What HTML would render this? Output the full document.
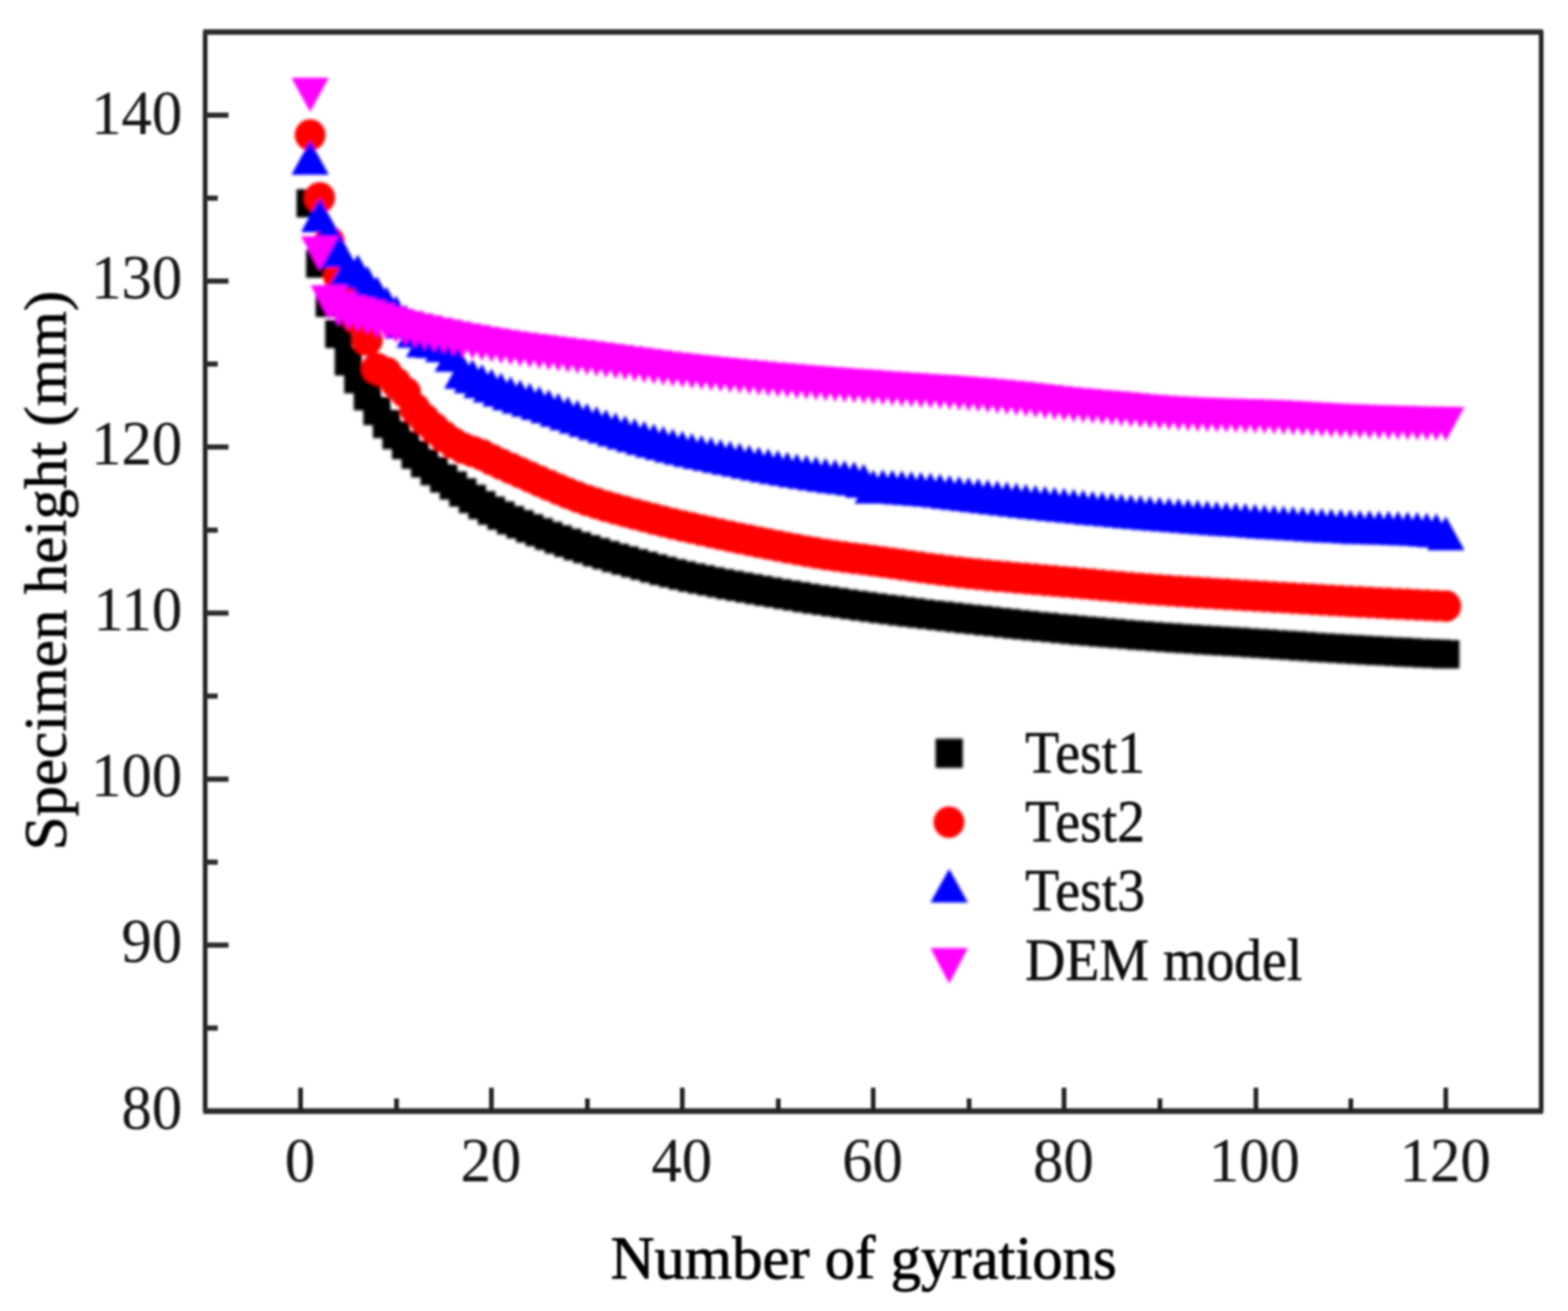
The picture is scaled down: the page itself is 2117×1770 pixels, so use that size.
<!DOCTYPE html>
<html lang="en"><head><meta charset="utf-8"><title>Specimen height vs number of gyrations</title>
<style>
html,body{margin:0;padding:0;background:#fff;}
body{width:2117px;height:1770px;}
svg{display:block;}
text{font-family:"Liberation Serif","DejaVu Serif",serif;fill:#060606;stroke:#060606;stroke-linejoin:round;}
.tk{font-size:82px;stroke-width:0.2px;fill:#141414;stroke:#141414;}
.lg{font-size:75.3px;stroke-width:0.7px;fill:#101010;stroke:#101010;}
.ax{font-size:82px;stroke-width:1.1px;}
.ay{font-size:82.45px;stroke-width:0.9px;}
</style></head><body>
<svg width="2117" height="1770" viewBox="0 0 2117 1770">
<defs><filter id="bl" x="0" y="0" width="2117" height="1770" filterUnits="userSpaceOnUse"><feGaussianBlur stdDeviation="1.9"/></filter><filter id="bt" x="0" y="0" width="2117" height="1770" filterUnits="userSpaceOnUse"><feGaussianBlur stdDeviation="1.45"/></filter></defs>
<rect width="2117" height="1770" fill="#fff"/>
<g filter="url(#bl)">
<path fill="#000" d="M400.3 255.4h36.8v38.2h-36.8zM413.2 336.9h36.8v38.2h-36.8zM426.1 389.9h36.8v38.2h-36.8zM439.0 431.9h36.8v38.2h-36.8zM451.9 468.9h36.8v38.2h-36.8zM464.7 492.9h36.8v38.2h-36.8zM477.6 515.9h36.8v38.2h-36.8zM490.5 535.9h36.8v38.2h-36.8zM503.4 553.4h36.8v38.2h-36.8zM516.3 568.4h36.8v38.2h-36.8zM529.2 581.9h36.8v38.2h-36.8zM542.1 594.9h36.8v38.2h-36.8zM554.9 606.4h36.8v38.2h-36.8zM567.8 617.0h36.8v38.2h-36.8zM580.7 626.9h36.8v38.2h-36.8zM593.6 636.4h36.8v38.2h-36.8zM606.5 645.7h36.8v38.2h-36.8zM619.4 654.6h36.8v38.2h-36.8zM632.2 662.9h36.8v38.2h-36.8zM645.1 670.4h36.8v38.2h-36.8zM658.0 677.0h36.8v38.2h-36.8zM670.9 683.2h36.8v38.2h-36.8zM683.8 688.8h36.8v38.2h-36.8zM696.7 694.2h36.8v38.2h-36.8zM709.6 699.4h36.8v38.2h-36.8zM722.4 704.4h36.8v38.2h-36.8zM735.3 709.2h36.8v38.2h-36.8zM748.2 713.8h36.8v38.2h-36.8zM761.1 718.2h36.8v38.2h-36.8zM774.0 722.4h36.8v38.2h-36.8zM786.9 726.5h36.8v38.2h-36.8zM799.7 730.4h36.8v38.2h-36.8zM812.6 734.2h36.8v38.2h-36.8zM825.5 737.8h36.8v38.2h-36.8zM838.4 741.4h36.8v38.2h-36.8zM851.3 744.9h36.8v38.2h-36.8zM864.2 748.4h36.8v38.2h-36.8zM877.0 751.8h36.8v38.2h-36.8zM889.9 754.9h36.8v38.2h-36.8zM902.8 757.9h36.8v38.2h-36.8zM915.7 760.7h36.8v38.2h-36.8zM928.6 763.3h36.8v38.2h-36.8zM941.5 765.9h36.8v38.2h-36.8zM954.4 768.4h36.8v38.2h-36.8zM967.2 770.8h36.8v38.2h-36.8zM980.1 773.1h36.8v38.2h-36.8zM993.0 775.3h36.8v38.2h-36.8zM1005.9 777.6h36.8v38.2h-36.8zM1018.8 779.7h36.8v38.2h-36.8zM1031.7 781.9h36.8v38.2h-36.8zM1044.5 784.0h36.8v38.2h-36.8zM1057.4 786.1h36.8v38.2h-36.8zM1070.3 788.2h36.8v38.2h-36.8zM1083.2 790.2h36.8v38.2h-36.8zM1096.1 792.1h36.8v38.2h-36.8zM1109.0 794.1h36.8v38.2h-36.8zM1121.8 795.9h36.8v38.2h-36.8zM1134.7 797.8h36.8v38.2h-36.8zM1147.6 799.6h36.8v38.2h-36.8zM1160.5 801.3h36.8v38.2h-36.8zM1173.4 803.0h36.8v38.2h-36.8zM1186.3 804.6h36.8v38.2h-36.8zM1199.2 806.2h36.8v38.2h-36.8zM1212.0 807.8h36.8v38.2h-36.8zM1224.9 809.4h36.8v38.2h-36.8zM1237.8 810.9h36.8v38.2h-36.8zM1250.7 812.3h36.8v38.2h-36.8zM1263.6 813.8h36.8v38.2h-36.8zM1276.5 815.3h36.8v38.2h-36.8zM1289.3 816.7h36.8v38.2h-36.8zM1302.2 818.1h36.8v38.2h-36.8zM1315.1 819.5h36.8v38.2h-36.8zM1328.0 820.9h36.8v38.2h-36.8zM1340.9 822.3h36.8v38.2h-36.8zM1353.8 823.7h36.8v38.2h-36.8zM1366.6 825.0h36.8v38.2h-36.8zM1379.5 826.4h36.8v38.2h-36.8zM1392.4 827.6h36.8v38.2h-36.8zM1405.3 828.9h36.8v38.2h-36.8zM1418.2 830.1h36.8v38.2h-36.8zM1431.1 831.3h36.8v38.2h-36.8zM1444.0 832.5h36.8v38.2h-36.8zM1456.8 833.6h36.8v38.2h-36.8zM1469.7 834.7h36.8v38.2h-36.8zM1482.6 835.8h36.8v38.2h-36.8zM1495.5 836.9h36.8v38.2h-36.8zM1508.4 837.9h36.8v38.2h-36.8zM1521.3 839.0h36.8v38.2h-36.8zM1534.1 839.9h36.8v38.2h-36.8zM1547.0 840.9h36.8v38.2h-36.8zM1559.9 841.8h36.8v38.2h-36.8zM1572.8 842.7h36.8v38.2h-36.8zM1585.7 843.5h36.8v38.2h-36.8zM1598.6 844.4h36.8v38.2h-36.8zM1611.5 845.2h36.8v38.2h-36.8zM1624.3 846.0h36.8v38.2h-36.8zM1637.2 846.8h36.8v38.2h-36.8zM1650.1 847.6h36.8v38.2h-36.8zM1663.0 848.4h36.8v38.2h-36.8zM1675.9 849.2h36.8v38.2h-36.8zM1688.8 850.0h36.8v38.2h-36.8zM1701.6 850.9h36.8v38.2h-36.8zM1714.5 851.8h36.8v38.2h-36.8zM1727.4 852.6h36.8v38.2h-36.8zM1740.3 853.5h36.8v38.2h-36.8zM1753.2 854.4h36.8v38.2h-36.8zM1766.1 855.2h36.8v38.2h-36.8zM1778.9 856.0h36.8v38.2h-36.8zM1791.8 856.8h36.8v38.2h-36.8zM1804.7 857.6h36.8v38.2h-36.8zM1817.6 858.3h36.8v38.2h-36.8zM1830.5 859.1h36.8v38.2h-36.8zM1843.4 859.8h36.8v38.2h-36.8zM1856.3 860.4h36.8v38.2h-36.8zM1869.1 861.1h36.8v38.2h-36.8zM1882.0 861.8h36.8v38.2h-36.8zM1894.9 862.4h36.8v38.2h-36.8zM1907.8 863.0h36.8v38.2h-36.8zM1920.7 863.6h36.8v38.2h-36.8zM1933.6 864.2h36.8v38.2h-36.8z"/>
<path fill="#f00" d="M397.9 182.2a20.8 21.3 0 1 0 41.6 0a20.8 21.3 0 1 0 -41.6 0zM410.8 267.0a20.8 21.3 0 1 0 41.6 0a20.8 21.3 0 1 0 -41.6 0zM423.7 326.0a20.8 21.3 0 1 0 41.6 0a20.8 21.3 0 1 0 -41.6 0zM436.6 374.0a20.8 21.3 0 1 0 41.6 0a20.8 21.3 0 1 0 -41.6 0zM449.5 394.0a20.8 21.3 0 1 0 41.6 0a20.8 21.3 0 1 0 -41.6 0zM462.3 430.0a20.8 21.3 0 1 0 41.6 0a20.8 21.3 0 1 0 -41.6 0zM475.2 459.0a20.8 21.3 0 1 0 41.6 0a20.8 21.3 0 1 0 -41.6 0zM488.1 497.5a20.8 21.3 0 1 0 41.6 0a20.8 21.3 0 1 0 -41.6 0zM501.0 503.0a20.8 21.3 0 1 0 41.6 0a20.8 21.3 0 1 0 -41.6 0zM513.9 517.0a20.8 21.3 0 1 0 41.6 0a20.8 21.3 0 1 0 -41.6 0zM526.8 530.0a20.8 21.3 0 1 0 41.6 0a20.8 21.3 0 1 0 -41.6 0zM539.7 552.0a20.8 21.3 0 1 0 41.6 0a20.8 21.3 0 1 0 -41.6 0zM552.5 566.0a20.8 21.3 0 1 0 41.6 0a20.8 21.3 0 1 0 -41.6 0zM565.4 578.0a20.8 21.3 0 1 0 41.6 0a20.8 21.3 0 1 0 -41.6 0zM578.3 589.0a20.8 21.3 0 1 0 41.6 0a20.8 21.3 0 1 0 -41.6 0zM591.2 598.0a20.8 21.3 0 1 0 41.6 0a20.8 21.3 0 1 0 -41.6 0zM604.1 605.0a20.8 21.3 0 1 0 41.6 0a20.8 21.3 0 1 0 -41.6 0zM617.0 609.5a20.8 21.3 0 1 0 41.6 0a20.8 21.3 0 1 0 -41.6 0zM629.8 614.0a20.8 21.3 0 1 0 41.6 0a20.8 21.3 0 1 0 -41.6 0zM642.7 620.5a20.8 21.3 0 1 0 41.6 0a20.8 21.3 0 1 0 -41.6 0zM655.6 626.5a20.8 21.3 0 1 0 41.6 0a20.8 21.3 0 1 0 -41.6 0zM668.5 632.3a20.8 21.3 0 1 0 41.6 0a20.8 21.3 0 1 0 -41.6 0zM681.4 638.0a20.8 21.3 0 1 0 41.6 0a20.8 21.3 0 1 0 -41.6 0zM694.3 643.8a20.8 21.3 0 1 0 41.6 0a20.8 21.3 0 1 0 -41.6 0zM707.2 649.5a20.8 21.3 0 1 0 41.6 0a20.8 21.3 0 1 0 -41.6 0zM720.0 655.0a20.8 21.3 0 1 0 41.6 0a20.8 21.3 0 1 0 -41.6 0zM732.9 660.5a20.8 21.3 0 1 0 41.6 0a20.8 21.3 0 1 0 -41.6 0zM745.8 665.9a20.8 21.3 0 1 0 41.6 0a20.8 21.3 0 1 0 -41.6 0zM758.7 670.9a20.8 21.3 0 1 0 41.6 0a20.8 21.3 0 1 0 -41.6 0zM771.6 675.5a20.8 21.3 0 1 0 41.6 0a20.8 21.3 0 1 0 -41.6 0zM784.5 679.6a20.8 21.3 0 1 0 41.6 0a20.8 21.3 0 1 0 -41.6 0zM797.3 683.5a20.8 21.3 0 1 0 41.6 0a20.8 21.3 0 1 0 -41.6 0zM810.2 687.1a20.8 21.3 0 1 0 41.6 0a20.8 21.3 0 1 0 -41.6 0zM823.1 690.6a20.8 21.3 0 1 0 41.6 0a20.8 21.3 0 1 0 -41.6 0zM836.0 694.0a20.8 21.3 0 1 0 41.6 0a20.8 21.3 0 1 0 -41.6 0zM848.9 697.4a20.8 21.3 0 1 0 41.6 0a20.8 21.3 0 1 0 -41.6 0zM861.8 700.7a20.8 21.3 0 1 0 41.6 0a20.8 21.3 0 1 0 -41.6 0zM874.6 703.9a20.8 21.3 0 1 0 41.6 0a20.8 21.3 0 1 0 -41.6 0zM887.5 707.0a20.8 21.3 0 1 0 41.6 0a20.8 21.3 0 1 0 -41.6 0zM900.4 710.0a20.8 21.3 0 1 0 41.6 0a20.8 21.3 0 1 0 -41.6 0zM913.3 712.9a20.8 21.3 0 1 0 41.6 0a20.8 21.3 0 1 0 -41.6 0zM926.2 715.8a20.8 21.3 0 1 0 41.6 0a20.8 21.3 0 1 0 -41.6 0zM939.1 718.6a20.8 21.3 0 1 0 41.6 0a20.8 21.3 0 1 0 -41.6 0zM952.0 721.4a20.8 21.3 0 1 0 41.6 0a20.8 21.3 0 1 0 -41.6 0zM964.8 724.1a20.8 21.3 0 1 0 41.6 0a20.8 21.3 0 1 0 -41.6 0zM977.7 726.8a20.8 21.3 0 1 0 41.6 0a20.8 21.3 0 1 0 -41.6 0zM990.6 729.4a20.8 21.3 0 1 0 41.6 0a20.8 21.3 0 1 0 -41.6 0zM1003.5 732.0a20.8 21.3 0 1 0 41.6 0a20.8 21.3 0 1 0 -41.6 0zM1016.4 734.5a20.8 21.3 0 1 0 41.6 0a20.8 21.3 0 1 0 -41.6 0zM1029.3 737.0a20.8 21.3 0 1 0 41.6 0a20.8 21.3 0 1 0 -41.6 0zM1042.1 739.5a20.8 21.3 0 1 0 41.6 0a20.8 21.3 0 1 0 -41.6 0zM1055.0 741.9a20.8 21.3 0 1 0 41.6 0a20.8 21.3 0 1 0 -41.6 0zM1067.9 744.2a20.8 21.3 0 1 0 41.6 0a20.8 21.3 0 1 0 -41.6 0zM1080.8 746.4a20.8 21.3 0 1 0 41.6 0a20.8 21.3 0 1 0 -41.6 0zM1093.7 748.5a20.8 21.3 0 1 0 41.6 0a20.8 21.3 0 1 0 -41.6 0zM1106.6 750.4a20.8 21.3 0 1 0 41.6 0a20.8 21.3 0 1 0 -41.6 0zM1119.4 752.1a20.8 21.3 0 1 0 41.6 0a20.8 21.3 0 1 0 -41.6 0zM1132.3 753.7a20.8 21.3 0 1 0 41.6 0a20.8 21.3 0 1 0 -41.6 0zM1145.2 755.3a20.8 21.3 0 1 0 41.6 0a20.8 21.3 0 1 0 -41.6 0zM1158.1 757.0a20.8 21.3 0 1 0 41.6 0a20.8 21.3 0 1 0 -41.6 0zM1171.0 758.7a20.8 21.3 0 1 0 41.6 0a20.8 21.3 0 1 0 -41.6 0zM1183.9 760.5a20.8 21.3 0 1 0 41.6 0a20.8 21.3 0 1 0 -41.6 0zM1196.8 762.3a20.8 21.3 0 1 0 41.6 0a20.8 21.3 0 1 0 -41.6 0zM1209.6 764.1a20.8 21.3 0 1 0 41.6 0a20.8 21.3 0 1 0 -41.6 0zM1222.5 765.9a20.8 21.3 0 1 0 41.6 0a20.8 21.3 0 1 0 -41.6 0zM1235.4 767.7a20.8 21.3 0 1 0 41.6 0a20.8 21.3 0 1 0 -41.6 0zM1248.3 769.4a20.8 21.3 0 1 0 41.6 0a20.8 21.3 0 1 0 -41.6 0zM1261.2 771.0a20.8 21.3 0 1 0 41.6 0a20.8 21.3 0 1 0 -41.6 0zM1274.1 772.6a20.8 21.3 0 1 0 41.6 0a20.8 21.3 0 1 0 -41.6 0zM1286.9 774.0a20.8 21.3 0 1 0 41.6 0a20.8 21.3 0 1 0 -41.6 0zM1299.8 775.3a20.8 21.3 0 1 0 41.6 0a20.8 21.3 0 1 0 -41.6 0zM1312.7 776.6a20.8 21.3 0 1 0 41.6 0a20.8 21.3 0 1 0 -41.6 0zM1325.6 777.8a20.8 21.3 0 1 0 41.6 0a20.8 21.3 0 1 0 -41.6 0zM1338.5 778.9a20.8 21.3 0 1 0 41.6 0a20.8 21.3 0 1 0 -41.6 0zM1351.4 780.1a20.8 21.3 0 1 0 41.6 0a20.8 21.3 0 1 0 -41.6 0zM1364.2 781.1a20.8 21.3 0 1 0 41.6 0a20.8 21.3 0 1 0 -41.6 0zM1377.1 782.2a20.8 21.3 0 1 0 41.6 0a20.8 21.3 0 1 0 -41.6 0zM1390.0 783.3a20.8 21.3 0 1 0 41.6 0a20.8 21.3 0 1 0 -41.6 0zM1402.9 784.4a20.8 21.3 0 1 0 41.6 0a20.8 21.3 0 1 0 -41.6 0zM1415.8 785.5a20.8 21.3 0 1 0 41.6 0a20.8 21.3 0 1 0 -41.6 0zM1428.7 786.6a20.8 21.3 0 1 0 41.6 0a20.8 21.3 0 1 0 -41.6 0zM1441.6 787.8a20.8 21.3 0 1 0 41.6 0a20.8 21.3 0 1 0 -41.6 0zM1454.4 788.9a20.8 21.3 0 1 0 41.6 0a20.8 21.3 0 1 0 -41.6 0zM1467.3 790.1a20.8 21.3 0 1 0 41.6 0a20.8 21.3 0 1 0 -41.6 0zM1480.2 791.2a20.8 21.3 0 1 0 41.6 0a20.8 21.3 0 1 0 -41.6 0zM1493.1 792.4a20.8 21.3 0 1 0 41.6 0a20.8 21.3 0 1 0 -41.6 0zM1506.0 793.5a20.8 21.3 0 1 0 41.6 0a20.8 21.3 0 1 0 -41.6 0zM1518.9 794.5a20.8 21.3 0 1 0 41.6 0a20.8 21.3 0 1 0 -41.6 0zM1531.7 795.5a20.8 21.3 0 1 0 41.6 0a20.8 21.3 0 1 0 -41.6 0zM1544.6 796.5a20.8 21.3 0 1 0 41.6 0a20.8 21.3 0 1 0 -41.6 0zM1557.5 797.4a20.8 21.3 0 1 0 41.6 0a20.8 21.3 0 1 0 -41.6 0zM1570.4 798.3a20.8 21.3 0 1 0 41.6 0a20.8 21.3 0 1 0 -41.6 0zM1583.3 799.1a20.8 21.3 0 1 0 41.6 0a20.8 21.3 0 1 0 -41.6 0zM1596.2 799.9a20.8 21.3 0 1 0 41.6 0a20.8 21.3 0 1 0 -41.6 0zM1609.1 800.7a20.8 21.3 0 1 0 41.6 0a20.8 21.3 0 1 0 -41.6 0zM1621.9 801.5a20.8 21.3 0 1 0 41.6 0a20.8 21.3 0 1 0 -41.6 0zM1634.8 802.2a20.8 21.3 0 1 0 41.6 0a20.8 21.3 0 1 0 -41.6 0zM1647.7 803.0a20.8 21.3 0 1 0 41.6 0a20.8 21.3 0 1 0 -41.6 0zM1660.6 803.7a20.8 21.3 0 1 0 41.6 0a20.8 21.3 0 1 0 -41.6 0zM1673.5 804.5a20.8 21.3 0 1 0 41.6 0a20.8 21.3 0 1 0 -41.6 0zM1686.4 805.3a20.8 21.3 0 1 0 41.6 0a20.8 21.3 0 1 0 -41.6 0zM1699.2 806.1a20.8 21.3 0 1 0 41.6 0a20.8 21.3 0 1 0 -41.6 0zM1712.1 806.8a20.8 21.3 0 1 0 41.6 0a20.8 21.3 0 1 0 -41.6 0zM1725.0 807.6a20.8 21.3 0 1 0 41.6 0a20.8 21.3 0 1 0 -41.6 0zM1737.9 808.4a20.8 21.3 0 1 0 41.6 0a20.8 21.3 0 1 0 -41.6 0zM1750.8 809.1a20.8 21.3 0 1 0 41.6 0a20.8 21.3 0 1 0 -41.6 0zM1763.7 809.9a20.8 21.3 0 1 0 41.6 0a20.8 21.3 0 1 0 -41.6 0zM1776.5 810.6a20.8 21.3 0 1 0 41.6 0a20.8 21.3 0 1 0 -41.6 0zM1789.4 811.3a20.8 21.3 0 1 0 41.6 0a20.8 21.3 0 1 0 -41.6 0zM1802.3 812.0a20.8 21.3 0 1 0 41.6 0a20.8 21.3 0 1 0 -41.6 0zM1815.2 812.7a20.8 21.3 0 1 0 41.6 0a20.8 21.3 0 1 0 -41.6 0zM1828.1 813.3a20.8 21.3 0 1 0 41.6 0a20.8 21.3 0 1 0 -41.6 0zM1841.0 814.0a20.8 21.3 0 1 0 41.6 0a20.8 21.3 0 1 0 -41.6 0zM1853.9 814.7a20.8 21.3 0 1 0 41.6 0a20.8 21.3 0 1 0 -41.6 0zM1866.7 815.3a20.8 21.3 0 1 0 41.6 0a20.8 21.3 0 1 0 -41.6 0zM1879.6 815.9a20.8 21.3 0 1 0 41.6 0a20.8 21.3 0 1 0 -41.6 0zM1892.5 816.5a20.8 21.3 0 1 0 41.6 0a20.8 21.3 0 1 0 -41.6 0zM1905.4 817.1a20.8 21.3 0 1 0 41.6 0a20.8 21.3 0 1 0 -41.6 0zM1918.3 817.7a20.8 21.3 0 1 0 41.6 0a20.8 21.3 0 1 0 -41.6 0zM1931.2 818.3a20.8 21.3 0 1 0 41.6 0a20.8 21.3 0 1 0 -41.6 0z"/>
<path fill="#00f" d="M418.7 190.0l25.25 46.0h-50.5zM431.6 267.5l25.25 46.0h-50.5zM444.5 291.0l25.25 46.0h-50.5zM457.4 315.0l25.25 46.0h-50.5zM470.3 340.0l25.25 46.0h-50.5zM483.1 343.5l25.25 46.0h-50.5zM496.0 359.0l25.25 46.0h-50.5zM508.9 373.0l25.25 46.0h-50.5zM521.8 387.0l25.25 46.0h-50.5zM534.7 399.0l25.25 46.0h-50.5zM547.6 411.0l25.25 46.0h-50.5zM560.5 423.5l25.25 46.0h-50.5zM573.3 436.5l25.25 46.0h-50.5zM586.2 437.5l25.25 46.0h-50.5zM599.1 443.0l25.25 46.0h-50.5zM612.0 456.0l25.25 46.0h-50.5zM624.9 479.0l25.25 46.0h-50.5zM637.8 485.0l25.25 46.0h-50.5zM650.6 491.5l25.25 46.0h-50.5zM663.5 497.5l25.25 46.0h-50.5zM676.4 503.0l25.25 46.0h-50.5zM689.3 507.9l25.25 46.0h-50.5zM702.2 512.5l25.25 46.0h-50.5zM715.1 516.8l25.25 46.0h-50.5zM728.0 521.0l25.25 46.0h-50.5zM740.8 525.5l25.25 46.0h-50.5zM753.7 530.2l25.25 46.0h-50.5zM766.6 534.9l25.25 46.0h-50.5zM779.5 539.5l25.25 46.0h-50.5zM792.4 544.0l25.25 46.0h-50.5zM805.3 548.3l25.25 46.0h-50.5zM818.1 552.6l25.25 46.0h-50.5zM831.0 556.7l25.25 46.0h-50.5zM843.9 560.7l25.25 46.0h-50.5zM856.8 564.5l25.25 46.0h-50.5zM869.7 568.2l25.25 46.0h-50.5zM882.6 571.7l25.25 46.0h-50.5zM895.4 575.1l25.25 46.0h-50.5zM908.3 578.4l25.25 46.0h-50.5zM921.2 581.5l25.25 46.0h-50.5zM934.1 584.4l25.25 46.0h-50.5zM947.0 587.2l25.25 46.0h-50.5zM959.9 589.8l25.25 46.0h-50.5zM972.8 592.4l25.25 46.0h-50.5zM985.6 595.0l25.25 46.0h-50.5zM998.5 597.6l25.25 46.0h-50.5zM1011.4 600.2l25.25 46.0h-50.5zM1024.3 602.7l25.25 46.0h-50.5zM1037.2 605.2l25.25 46.0h-50.5zM1050.1 607.5l25.25 46.0h-50.5zM1062.9 609.7l25.25 46.0h-50.5zM1075.8 611.9l25.25 46.0h-50.5zM1088.7 613.9l25.25 46.0h-50.5zM1101.6 616.0l25.25 46.0h-50.5zM1114.5 618.0l25.25 46.0h-50.5zM1127.4 619.7l25.25 46.0h-50.5zM1140.2 621.2l25.25 46.0h-50.5zM1153.1 623.1l25.25 46.0h-50.5zM1166.0 626.0l25.25 46.0h-50.5zM1178.9 634.0l25.25 46.0h-50.5zM1191.8 633.5l25.25 46.0h-50.5zM1204.7 634.0l25.25 46.0h-50.5zM1217.6 635.0l25.25 46.0h-50.5zM1230.4 635.9l25.25 46.0h-50.5zM1243.3 636.9l25.25 46.0h-50.5zM1256.2 638.0l25.25 46.0h-50.5zM1269.1 639.3l25.25 46.0h-50.5zM1282.0 640.9l25.25 46.0h-50.5zM1294.9 642.5l25.25 46.0h-50.5zM1307.7 644.0l25.25 46.0h-50.5zM1320.6 645.5l25.25 46.0h-50.5zM1333.5 647.0l25.25 46.0h-50.5zM1346.4 648.5l25.25 46.0h-50.5zM1359.3 650.0l25.25 46.0h-50.5zM1372.2 651.5l25.25 46.0h-50.5zM1385.0 652.9l25.25 46.0h-50.5zM1397.9 654.4l25.25 46.0h-50.5zM1410.8 655.8l25.25 46.0h-50.5zM1423.7 657.2l25.25 46.0h-50.5zM1436.6 658.5l25.25 46.0h-50.5zM1449.5 659.8l25.25 46.0h-50.5zM1462.4 661.1l25.25 46.0h-50.5zM1475.2 662.4l25.25 46.0h-50.5zM1488.1 663.6l25.25 46.0h-50.5zM1501.0 664.8l25.25 46.0h-50.5zM1513.9 666.0l25.25 46.0h-50.5zM1526.8 667.2l25.25 46.0h-50.5zM1539.7 668.3l25.25 46.0h-50.5zM1552.5 669.4l25.25 46.0h-50.5zM1565.4 670.5l25.25 46.0h-50.5zM1578.3 671.5l25.25 46.0h-50.5zM1591.2 672.6l25.25 46.0h-50.5zM1604.1 673.6l25.25 46.0h-50.5zM1617.0 674.5l25.25 46.0h-50.5zM1629.9 675.5l25.25 46.0h-50.5zM1642.7 676.4l25.25 46.0h-50.5zM1655.6 677.4l25.25 46.0h-50.5zM1668.5 678.3l25.25 46.0h-50.5zM1681.4 679.1l25.25 46.0h-50.5zM1694.3 680.0l25.25 46.0h-50.5zM1707.2 680.9l25.25 46.0h-50.5zM1720.0 681.7l25.25 46.0h-50.5zM1732.9 682.5l25.25 46.0h-50.5zM1745.8 683.3l25.25 46.0h-50.5zM1758.7 684.1l25.25 46.0h-50.5zM1771.6 684.9l25.25 46.0h-50.5zM1784.5 685.7l25.25 46.0h-50.5zM1797.3 686.4l25.25 46.0h-50.5zM1810.2 687.1l25.25 46.0h-50.5zM1823.1 687.8l25.25 46.0h-50.5zM1836.0 688.4l25.25 46.0h-50.5zM1848.9 688.8l25.25 46.0h-50.5zM1861.8 689.2l25.25 46.0h-50.5zM1874.7 689.5l25.25 46.0h-50.5zM1887.5 689.9l25.25 46.0h-50.5zM1900.4 690.4l25.25 46.0h-50.5zM1913.3 691.0l25.25 46.0h-50.5zM1926.2 691.9l25.25 46.0h-50.5zM1939.1 693.0l25.25 46.0h-50.5zM1952.0 697.0l25.25 46.0h-50.5z"/>
<path fill="#f0f" d="M418.7 151.0l25.25 -46.0h-50.5zM431.6 365.0l25.25 -46.0h-50.5zM444.5 431.0l25.25 -46.0h-50.5zM457.4 440.0l25.25 -46.0h-50.5zM470.3 445.0l25.25 -46.0h-50.5zM483.1 448.0l25.25 -46.0h-50.5zM496.0 451.6l25.25 -46.0h-50.5zM508.9 455.5l25.25 -46.0h-50.5zM521.8 459.5l25.25 -46.0h-50.5zM534.7 463.0l25.25 -46.0h-50.5zM547.6 466.1l25.25 -46.0h-50.5zM560.5 469.2l25.25 -46.0h-50.5zM573.3 472.1l25.25 -46.0h-50.5zM586.2 474.9l25.25 -46.0h-50.5zM599.1 477.6l25.25 -46.0h-50.5zM612.0 480.2l25.25 -46.0h-50.5zM624.9 482.7l25.25 -46.0h-50.5zM637.8 485.1l25.25 -46.0h-50.5zM650.6 487.4l25.25 -46.0h-50.5zM663.5 489.5l25.25 -46.0h-50.5zM676.4 491.5l25.25 -46.0h-50.5zM689.3 493.4l25.25 -46.0h-50.5zM702.2 495.2l25.25 -46.0h-50.5zM715.1 496.9l25.25 -46.0h-50.5zM728.0 498.6l25.25 -46.0h-50.5zM740.8 500.2l25.25 -46.0h-50.5zM753.7 501.8l25.25 -46.0h-50.5zM766.6 503.4l25.25 -46.0h-50.5zM779.5 505.0l25.25 -46.0h-50.5zM792.4 506.7l25.25 -46.0h-50.5zM805.3 508.4l25.25 -46.0h-50.5zM818.1 510.2l25.25 -46.0h-50.5zM831.0 512.0l25.25 -46.0h-50.5zM843.9 513.8l25.25 -46.0h-50.5zM856.8 515.6l25.25 -46.0h-50.5zM869.7 517.3l25.25 -46.0h-50.5zM882.6 519.0l25.25 -46.0h-50.5zM895.4 520.7l25.25 -46.0h-50.5zM908.3 522.3l25.25 -46.0h-50.5zM921.2 523.8l25.25 -46.0h-50.5zM934.1 525.2l25.25 -46.0h-50.5zM947.0 526.6l25.25 -46.0h-50.5zM959.9 528.0l25.25 -46.0h-50.5zM972.8 529.3l25.25 -46.0h-50.5zM985.6 530.6l25.25 -46.0h-50.5zM998.5 531.8l25.25 -46.0h-50.5zM1011.4 533.0l25.25 -46.0h-50.5zM1024.3 534.2l25.25 -46.0h-50.5zM1037.2 535.4l25.25 -46.0h-50.5zM1050.1 536.5l25.25 -46.0h-50.5zM1062.9 537.6l25.25 -46.0h-50.5zM1075.8 538.7l25.25 -46.0h-50.5zM1088.7 539.7l25.25 -46.0h-50.5zM1101.6 540.7l25.25 -46.0h-50.5zM1114.5 541.7l25.25 -46.0h-50.5zM1127.4 542.7l25.25 -46.0h-50.5zM1140.2 543.7l25.25 -46.0h-50.5zM1153.1 544.6l25.25 -46.0h-50.5zM1166.0 545.6l25.25 -46.0h-50.5zM1178.9 546.5l25.25 -46.0h-50.5zM1191.8 547.4l25.25 -46.0h-50.5zM1204.7 548.3l25.25 -46.0h-50.5zM1217.6 549.2l25.25 -46.0h-50.5zM1230.4 550.0l25.25 -46.0h-50.5zM1243.3 550.9l25.25 -46.0h-50.5zM1256.2 551.7l25.25 -46.0h-50.5zM1269.1 552.6l25.25 -46.0h-50.5zM1282.0 553.5l25.25 -46.0h-50.5zM1294.9 554.5l25.25 -46.0h-50.5zM1307.7 555.5l25.25 -46.0h-50.5zM1320.6 556.6l25.25 -46.0h-50.5zM1333.5 557.8l25.25 -46.0h-50.5zM1346.4 559.0l25.25 -46.0h-50.5zM1359.3 560.3l25.25 -46.0h-50.5zM1372.2 561.6l25.25 -46.0h-50.5zM1385.0 563.0l25.25 -46.0h-50.5zM1397.9 564.5l25.25 -46.0h-50.5zM1410.8 566.0l25.25 -46.0h-50.5zM1423.7 567.6l25.25 -46.0h-50.5zM1436.6 569.0l25.25 -46.0h-50.5zM1449.5 570.2l25.25 -46.0h-50.5zM1462.4 571.3l25.25 -46.0h-50.5zM1475.2 572.4l25.25 -46.0h-50.5zM1488.1 573.4l25.25 -46.0h-50.5zM1501.0 574.5l25.25 -46.0h-50.5zM1513.9 575.7l25.25 -46.0h-50.5zM1526.8 577.0l25.25 -46.0h-50.5zM1539.7 578.2l25.25 -46.0h-50.5zM1552.5 579.3l25.25 -46.0h-50.5zM1565.4 580.3l25.25 -46.0h-50.5zM1578.3 581.1l25.25 -46.0h-50.5zM1591.2 581.8l25.25 -46.0h-50.5zM1604.1 582.4l25.25 -46.0h-50.5zM1617.0 583.0l25.25 -46.0h-50.5zM1629.9 583.5l25.25 -46.0h-50.5zM1642.7 583.9l25.25 -46.0h-50.5zM1655.6 584.3l25.25 -46.0h-50.5zM1668.5 584.7l25.25 -46.0h-50.5zM1681.4 585.1l25.25 -46.0h-50.5zM1694.3 585.5l25.25 -46.0h-50.5zM1707.2 586.0l25.25 -46.0h-50.5zM1720.0 586.6l25.25 -46.0h-50.5zM1732.9 587.3l25.25 -46.0h-50.5zM1745.8 588.0l25.25 -46.0h-50.5zM1758.7 588.8l25.25 -46.0h-50.5zM1771.6 589.5l25.25 -46.0h-50.5zM1784.5 590.2l25.25 -46.0h-50.5zM1797.3 590.9l25.25 -46.0h-50.5zM1810.2 591.5l25.25 -46.0h-50.5zM1823.1 592.0l25.25 -46.0h-50.5zM1836.0 592.4l25.25 -46.0h-50.5zM1848.9 592.9l25.25 -46.0h-50.5zM1861.8 593.3l25.25 -46.0h-50.5zM1874.7 593.7l25.25 -46.0h-50.5zM1887.5 594.1l25.25 -46.0h-50.5zM1900.4 594.4l25.25 -46.0h-50.5zM1913.3 594.7l25.25 -46.0h-50.5zM1926.2 595.0l25.25 -46.0h-50.5zM1939.1 595.3l25.25 -46.0h-50.5zM1952.0 595.5l25.25 -46.0h-50.5z"/>
</g>
<g filter="url(#bl)">
<path fill="#000" d="M1263.1 997.2h36.8v39.6h-36.8z"/>
<path fill="#f00" d="M1260.4 1110.0a20.8 21.3 0 1 0 41.6 0a20.8 21.3 0 1 0 -41.6 0z"/>
<path fill="#00f" d="M1281.5 1173.0l25.25 45.5h-50.5z"/>
<path fill="#f0f" d="M1281.5 1328.0l25.25 -48.0h-50.5z"/>
</g>
<g filter="url(#bt)">
<rect x="277.0" y="43.3" width="1803.8" height="1456.8" fill="none" stroke="#242424" stroke-width="6.3" stroke-linejoin="round"/>
<path d="M274.6 43.3H2083.2000000000003M274.6 1500.1H2083.2000000000003" fill="none" stroke="#2c2c2c" stroke-width="7.6"/>
<path d="M405.8 1500.1v-31.5M535.4 1500.1v-17M663.5 1500.1v-31.5M793.1 1500.1v-17M921.2 1500.1v-31.5M1050.8 1500.1v-17M1178.9 1500.1v-31.5M1308.4 1500.1v-17M1436.6 1500.1v-31.5M1566.1 1500.1v-17M1695.7 1500.1v-31.5M1823.8 1500.1v-17M1952.0 1500.1v-31.5" fill="none" stroke="#242424" stroke-width="6.3"/>
<path d="M277.0 1388.0h17M277.0 1276.0h31.5M277.0 1163.9h17M277.0 1051.9h31.5M277.0 939.8h17M277.0 827.7h31.5M277.0 715.7h17M277.0 603.6h31.5M277.0 491.5h17M277.0 379.5h31.5M277.0 267.4h17M277.0 155.4h31.5" fill="none" stroke="#2c2c2c" stroke-width="7.0"/>
<text class="tk" transform="translate(405.0 1595.2) scale(1.0 1.04)" text-anchor="middle">0</text>
<text class="tk" transform="translate(662.7 1595.2) scale(1.0 1.04)" text-anchor="middle">20</text>
<text class="tk" transform="translate(920.4 1595.2) scale(1.0 1.04)" text-anchor="middle">40</text>
<text class="tk" transform="translate(1178.1 1595.2) scale(1.0 1.04)" text-anchor="middle">60</text>
<text class="tk" transform="translate(1435.8 1595.2) scale(1.0 1.04)" text-anchor="middle">80</text>
<text class="tk" transform="translate(1693.5 1595.2) scale(1.0 1.04)" text-anchor="middle">100</text>
<text class="tk" transform="translate(1951.2 1595.2) scale(1.0 1.04)" text-anchor="middle">120</text>
<text class="tk" transform="translate(246.0 1523.5) scale(1.0 1.04)" text-anchor="end">80</text>
<text class="tk" transform="translate(246.0 1299.4) scale(1.0 1.04)" text-anchor="end">90</text>
<text class="tk" transform="translate(246.0 1075.3) scale(1.0 1.04)" text-anchor="end">100</text>
<text class="tk" transform="translate(246.0 851.1) scale(1.0 1.04)" text-anchor="end">110</text>
<text class="tk" transform="translate(246.0 627.0) scale(1.0 1.04)" text-anchor="end">120</text>
<text class="tk" transform="translate(246.0 402.9) scale(1.0 1.04)" text-anchor="end">130</text>
<text class="tk" transform="translate(246.0 180.8) scale(1.0 1.04)" text-anchor="end">140</text>
<text class="ax" transform="translate(1166.0 1725.5)" text-anchor="middle">Number of gyrations</text>
<text class="ay" transform="translate(88.3 770.3) rotate(-90) scale(1.0 0.97)" text-anchor="middle">Specimen height (mm)</text>
<text class="lg" transform="translate(1384.0 1043.0) scale(1.0 1.08)" text-anchor="start">Test1</text>
<text class="lg" transform="translate(1384.0 1135.5) scale(1.0 1.08)" text-anchor="start">Test2</text>
<text class="lg" transform="translate(1384.0 1228.5) scale(1.0 1.08)" text-anchor="start">Test3</text>
<text class="lg" transform="translate(1384.0 1322.5) scale(1.0 1.08)" text-anchor="start">DEM model</text>
</g></svg></body></html>
